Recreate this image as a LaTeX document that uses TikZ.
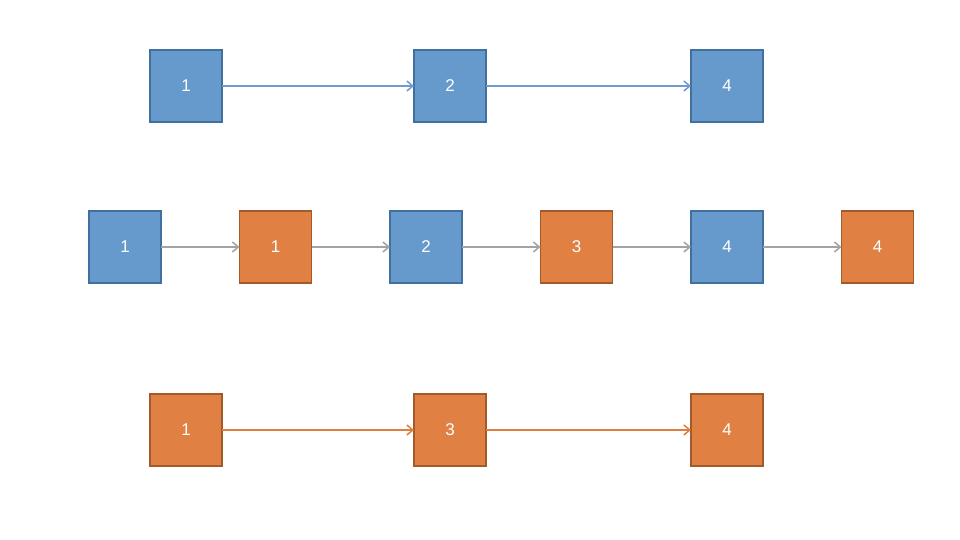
\documentclass[tikz,border=0pt]{standalone}
\usepackage{fontspec}
\setmainfont{Liberation Sans}
\usetikzlibrary{arrows.meta,positioning}
\definecolor{BoxBlue}{HTML}{6699CC}
\definecolor{EdgeBlue}{HTML}{41709F}
\definecolor{BoxOrange}{HTML}{E08143}
\definecolor{EdgeOrange}{HTML}{A25A2A}
\definecolor{LineBlue}{HTML}{6F9BD0}
\definecolor{LineGrey}{HTML}{A3A3A3}
\definecolor{LineOrange}{HTML}{E07E3E}

\begin{document}
\begin{tikzpicture}[x=1pt,y=-1pt,node distance=78.5pt,
    box/.style={draw,line width=1.6pt,minimum size=72pt,inner sep=0pt,outer sep=0pt,text=white,font=\fontsize{17}{19}\selectfont},
    bluebox/.style={box,fill=BoxBlue,draw=EdgeBlue},
    orangebox/.style={box,fill=BoxOrange,draw=EdgeOrange},
    arr/.style={-{Straight Barb[length=6pt,width=10pt]},line width=1.5pt}]
    \useasboundingbox (0,0) rectangle (960,540);
    % top row
    \node[bluebox] (top1) at (186,86) {1};
    \node[bluebox,right=192pt of top1] (top2) {2};
    \node[bluebox,right=205pt of top2] (top4) {4};
    \draw[arr,LineBlue] (top1)--(top2); \draw[arr,LineBlue] (top2)--(top4);
    % merged row
    \node[bluebox] (mid1) at (125,247) {1};
    \node[orangebox,right=of mid1] (mid1b) {1};
    \node[bluebox,right=of mid1b] (mid2) {2};
    \node[orangebox,right=of mid2] (mid3) {3};
    \node[bluebox,right=of mid3] (mid4) {4};
    \node[orangebox,right=of mid4] (mid4b) {4};
    \draw[arr,LineGrey] (mid1)--(mid1b); \draw[arr,LineGrey] (mid1b)--(mid2); \draw[arr,LineGrey] (mid2)--(mid3);
    \draw[arr,LineGrey] (mid3)--(mid4); \draw[arr,LineGrey] (mid4)--(mid4b);
    % bottom row
    \node[orangebox] (bot1) at (186,430) {1};
    \node[orangebox,right=192pt of bot1] (bot3) {3};
    \node[orangebox,right=205pt of bot3] (bot4) {4};
    \draw[arr,LineOrange] (bot1)--(bot3); \draw[arr,LineOrange] (bot3)--(bot4);
\end{tikzpicture}
\end{document}
